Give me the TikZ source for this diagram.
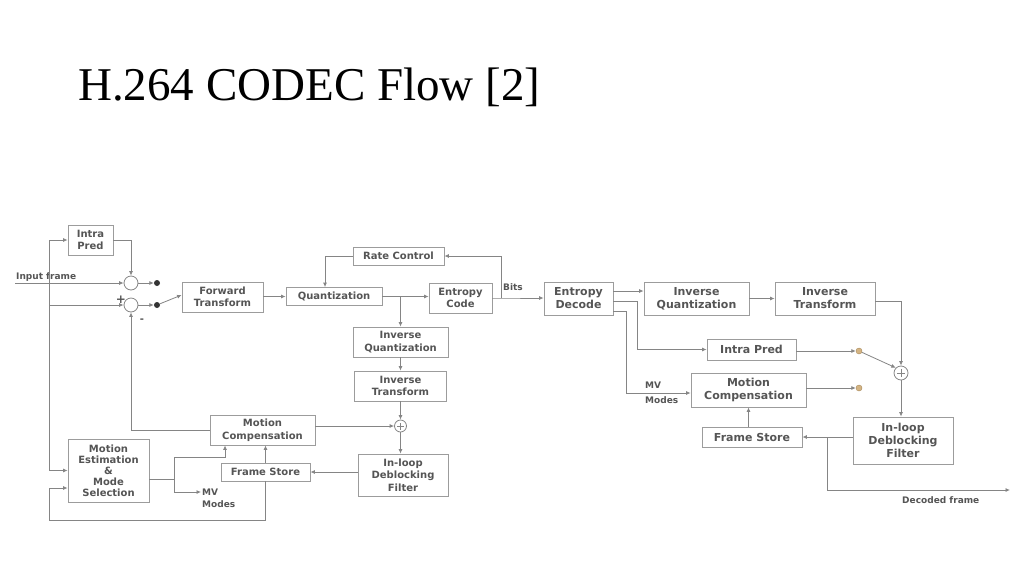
\documentclass[tikz,border=0pt]{standalone}
\usepackage{fontspec}
\setmainfont{Liberation Serif}
\newfontfamily\boxfont{DejaVu Sans}
\usetikzlibrary{arrows.meta}
\definecolor{txtc}{HTML}{555555}
\definecolor{wirec}{HTML}{858585}
\definecolor{bdc}{HTML}{9C9C9C}
\definecolor{tanc}{HTML}{D4B483}
\definecolor{tanbd}{HTML}{A88A5A}
\begin{document}
\begin{tikzpicture}[x=1pt,y=-1pt,
 blk/.style={draw=bdc, line width=0.8pt, text=txtc, font=\boxfont\bfseries\fontsize{10}{12.5}\selectfont, align=center, inner sep=0pt},
 dblk/.style={blk, font=\boxfont\bfseries\fontsize{11}{13}\selectfont},
 sumc/.style={circle, draw=wirec, line width=0.8pt, minimum size=14pt, inner sep=0pt},
 bdot/.style={circle, fill=black!80, minimum size=6pt, inner sep=0pt},
 tdot/.style={circle, fill=tanc, draw=tanbd, line width=0.4pt, minimum size=6pt, inner sep=0pt},
 lbl/.style={text=txtc, font=\boxfont\bfseries\fontsize{9}{10}\selectfont, inner sep=0pt},
 ar/.style={draw=wirec, line width=0.8pt, -{Latex[length=4.5pt,width=4pt]}},
 wire/.style={draw=wirec, line width=0.8pt}
]
\useasboundingbox (0,0) rectangle (1024,576);
\fill[white] (0,0) rectangle (1024,576);

% title
\node[anchor=base west, inner sep=0pt, font=\fontsize{47}{47}\selectfont] (title) at (78,100) {H.264 CODEC Flow [2]};

% ---------------- encoder ----------------
\node[blk, minimum width=45pt, minimum height=30pt] (intra) at (90.5,240) {Intra\\Pred};
\node[sumc] (c1) at (131,283) {};
\node[sumc] (c2) at (131,305) {};
\node[bdot] (d1) at (157,283) {};
\node[bdot] (d2) at (157,305) {};
\node[blk, minimum width=81pt, minimum height=30pt] (ft) at (222.5,297) {Forward\\Transform};
\node[blk, minimum width=96pt, minimum height=18pt] (q) at (334,296.5) {Quantization};
\node[blk, minimum width=91pt, minimum height=18pt] (rc) at (398.5,256) {Rate Control};
\node[blk, minimum width=63pt, minimum height=30pt] (ec) at (460.5,298) {Entropy\\Code};
\node[blk, minimum width=95pt, minimum height=30pt] (iq) at (400.5,342) {Inverse\\Quantization};
\node[blk, minimum width=92pt, minimum height=30pt] (it) at (400.5,386) {Inverse\\Transform};
\node[sumc, minimum size=12pt] (p1) at (400.5,426) {};
\node[blk, minimum width=90pt, minimum height=42pt] (dbf) at (403,475) {In-loop\\Deblocking\\Filter};
\node[blk, minimum width=105pt, minimum height=30pt] (mc) at (262.5,430) {Motion\\Compensation};
\node[blk, minimum width=89pt, minimum height=18pt] (fs) at (265.5,472) {Frame Store};
\node[blk, minimum width=81pt, minimum height=63pt, font=\boxfont\bfseries\fontsize{10}{11}\selectfont] (me) at (108.5,470.5) {Motion\\Estimation\\\&\\Mode\\Selection};

% ---------------- decoder nodes ----------------
\node[dblk, minimum width=69pt, minimum height=33pt] (ed) at (578.5,298.5) {Entropy\\Decode};
\node[dblk, minimum width=105pt, minimum height=33pt] (diq) at (696.5,298.5) {Inverse\\Quantization};
\node[dblk, minimum width=100pt, minimum height=33pt] (dit) at (825,298.5) {Inverse\\Transform};
\node[dblk, minimum width=89pt, minimum height=21pt] (dip) at (751.5,349.5) {Intra Pred};
\node[dblk, minimum width=115pt, minimum height=34pt] (dmc) at (748.5,390) {Motion\\Compensation};
\node[dblk, minimum width=100pt, minimum height=20pt] (dfs) at (752,437) {Frame Store};
\node[dblk, minimum width=100pt, minimum height=47pt] (ddbf) at (903,440.5) {In-loop\\Deblocking\\Filter};
\node[sumc] (dp) at (901,373) {};
\node[tdot] (dd1) at (859,351) {};
\node[tdot] (dd2) at (859,388) {};

% ---------------- encoder connectors ----------------
\draw[wire] ([xshift=-3.5pt]p1.center) -- ([xshift=3.5pt]p1.center);
\draw[wire] ([yshift=-3.5pt]p1.center) -- ([yshift=3.5pt]p1.center);

\coordinate (inp) at (15,283);
\coordinate (bus) at (49,283);
\draw[ar] (inp) -- (c1.west);
\node[lbl, anchor=base west] (inlbl) at (16,279) {Input frame};
\draw[ar] (bus) |- (intra.west);
\draw[ar] (bus) |- (c2.west);
\draw[ar] (bus) |- (me.west);
\draw[ar] (intra.east) -| (c1.north);
\draw[ar] (c1.east) -- (d1);
\draw[ar] (c2.east) -- (d2);
\draw[ar] (d2) -- ([yshift=2pt]ft.west);
\node[text=txtc, font=\boxfont\bfseries\fontsize{12}{12}\selectfont, inner sep=0pt] (plus) at (121,300) {+};
\node[text=txtc, font=\boxfont\bfseries\fontsize{10}{10}\selectfont, inner sep=0pt] (minus) at (142,321) {-};
\draw[ar] (mc.west) -| (c2.south);

\draw[ar] (ft.east|-q.west) -- (q.west);
\draw[ar] (q.east) -- (ec.west|-q.east);
\draw[ar] (iq.north|-q.east) -- (iq.north);
\draw[ar] (rc.west) -| ([xshift=-9pt]q.north);
\coordinate (bits) at (501,298);
\draw[ar] (ec.east) -- (bits) -- (ed.west|-bits);
\draw[ar] (bits) |- (rc.east);
\node[lbl, anchor=base west] (bitslbl) at (503,290) {Bits};

\draw[ar] (iq.south) -- (it.north);
\draw[ar] (it.south) -- (p1.north);
\draw[ar] (mc.east|-p1.west) -- (p1.west);
\draw[ar] (p1.south) -- (p1.south|-dbf.north);
\draw[ar] (dbf.west|-fs.east) -- (fs.east);
\draw[ar] (fs.north) -- (fs.north|-mc.south);
\coordinate (lb) at (49,520);
\draw[ar] (fs.south) |- (lb) |- ([yshift=-17.5pt]me.west);
\coordinate (mej) at (174,479);
\coordinate (mcin) at ([xshift=-37.5pt]mc.south);
\coordinate (mvout) at (201,492);
\draw[wire] ([yshift=-8.5pt]me.east) -- (mej);
\draw[ar] (mej) -- (174,457) -| (mcin);
\draw[ar] (mej) |- (mvout);
\node[lbl, anchor=west] (mv1) at (202,492) {MV};
\node[lbl, anchor=west] (mv2) at (202,504) {Modes};

% ---------------- decoder connectors ----------------
\draw[wire] ([xshift=-4pt]dp.center) -- ([xshift=4pt]dp.center);
\draw[wire] ([yshift=-4pt]dp.center) -- ([yshift=4pt]dp.center);

\draw[ar] ([yshift=7.5pt]ed.east) -- ([yshift=7.5pt]diq.west);
\draw[ar] (diq.east) -- (dit.west);
\draw[ar] ([yshift=-2.5pt]ed.east) -- (637,301) |- (dip.west);
\draw[ar] ([yshift=-12.5pt]ed.east) -- (626,311) |- ([yshift=-3pt]dmc.west);
\node[lbl, anchor=west] (dmv1) at (645,385) {MV};
\node[lbl, anchor=west] (dmv2) at (645,400) {Modes};
\draw[ar] ([yshift=-2.5pt]dit.east) -| (dp.north);
\draw[ar] (dip.east|-dd1) -- (dd1);
\draw[ar] (dd1) -- (dp.north west);
\draw[ar] (dmc.east|-dd2) -- (dd2);
\draw[ar] (dp.south) -- (dp.south|-ddbf.north);
\coordinate (dj) at (827,437);
\coordinate (decout) at (1010,490);
\draw[ar] (ddbf.west|-dfs.east) -- (dfs.east);
\draw[ar] (dj) |- (decout);
\node[lbl, anchor=base west] (declbl) at (902,503) {Decoded frame};
\draw[ar] (dmc.south|-dfs.north) -- (dmc.south);
\end{tikzpicture}
\end{document}
